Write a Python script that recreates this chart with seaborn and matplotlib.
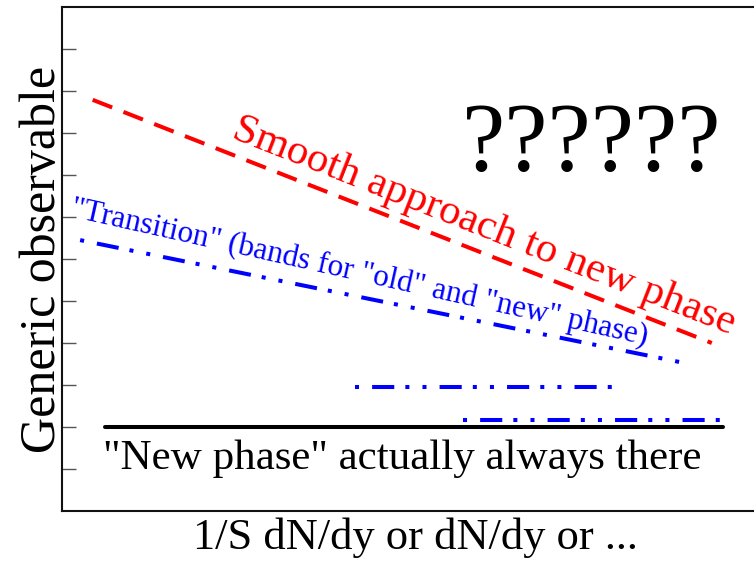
import matplotlib
matplotlib.use("Agg")
import matplotlib.pyplot as plt
import seaborn as sns

# line end points (x on a 0-10 scale, y on a 0-12 scale)
smooth_x = [0.44, 9.31]
smooth_y = [9.79, 4.00]
trans_x = [0.26, 8.93]
trans_y = [6.45, 3.52]
old_band_x = [4.20, 7.88]
old_band_y = [2.95, 2.95]
new_band_x = [5.74, 9.46]
new_band_y = [2.17, 2.17]
always_x = [0.62, 9.47]
always_y = [2.0, 2.0]
yticks = [1, 2, 3, 4, 5, 6, 7, 8, 9, 10, 11]

sns.set_style("ticks")
plt.rcParams['font.family'] = ['Liberation Serif', 'DejaVu Serif']
plt.rcParams['text.color'] = 'black'

fig = plt.figure(figsize=(7.54, 5.61), dpi=100)
ax = fig.add_axes([0.0822, 0.0891, 0.9257, 0.8984])

dashdotdot = (0, (1, 3.25, 5.5, 2.75, 1, 3.25))
sns.lineplot(x=smooth_x, y=smooth_y, ax=ax, color='#ff0000', lw=2.9,
             linestyle=(0, (5.2, 3)))
sns.lineplot(x=trans_x, y=trans_y, ax=ax, color='#0000ff', lw=2.9,
             linestyle=dashdotdot)
sns.lineplot(x=old_band_x, y=old_band_y, ax=ax, color='#0000ff', lw=2.9,
             linestyle=dashdotdot)
sns.lineplot(x=new_band_x, y=new_band_y, ax=ax, color='#0000ff', lw=2.9,
             linestyle=dashdotdot)
sns.lineplot(x=always_x, y=always_y, ax=ax, color='black', lw=2.9)

ax.set_xlim(0, 10)
ax.set_ylim(0, 12)
ax.set_xticks([])
ax.set_yticks(yticks)
ax.set_yticklabels([])
ax.tick_params(axis='y', direction='in', length=10, width=1, color='#555555')
ax.set_xlabel('')
ax.set_ylabel('')
for s in ax.spines.values():
    s.set_linewidth(1.5)
    s.set_color('#111111')

ax.text(2.41, 8.90, 'Smooth approach to new phase', color='#ff0000',
        fontsize=31, rotation=-21.5, rotation_mode='anchor',
        ha='left', va='baseline')
ax.text(0.11, 7.02, '"Transition" (bands for "old" and "new" phase)',
        color='#0000ff', fontsize=22.5, rotation=-12.6,
        rotation_mode='anchor', ha='left', va='baseline')
ax.text(7.59, 8.12, '??????', fontsize=70, color='black',
        ha='center', va='baseline')
ax.text(0.59, 1.0, '"New phase" actually always there', fontsize=31,
        color='black', ha='left', va='baseline')

fig.text(415 / 754, (561 - 549) / 561, '1/S dN/dy or dN/dy or ...',
         fontsize=32, color='black', ha='center', va='baseline')
fig.text(55 / 754, 1 - 259 / 561, 'Generic observable', fontsize=36,
         color='black', rotation=90, rotation_mode='anchor',
         ha='center', va='baseline')

fig.savefig('out.png', dpi=100)
